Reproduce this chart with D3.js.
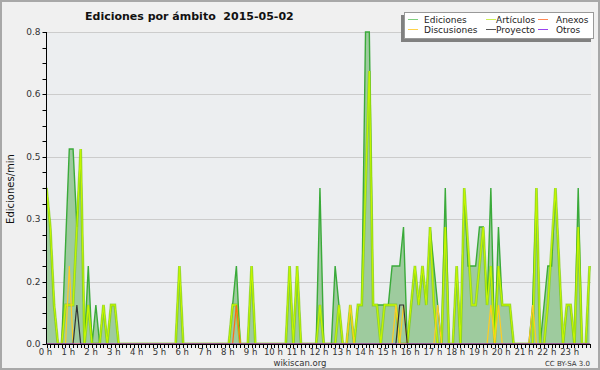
<!DOCTYPE html>
<html lang="es">
  <head>
    <meta charset="UTF-8" />
    <title>Ediciones por ámbito</title>
    <script src="https://d3js.org/d3.v7.min.js"></script>
    <style>
      body { margin: 0; background: #f0f0f0; }
      text { font-family: 'DejaVu Sans', sans-serif; }
    </style>
  </head>
  <body>
    <svg id="chart" width="600" height="370"></svg>
    <script>
      // one value every 10 minutes (144 per day), edits per minute
      const ediciones = [
        0.4, 0.3, 0.1, 0, 0, 0.25, 0.5, 0.5, 0.3, 0.5, 0, 0.2,
        0, 0.1, 0, 0.1, 0, 0.1, 0.1, 0, 0, 0, 0, 0,
        0, 0, 0, 0, 0, 0, 0, 0, 0, 0, 0, 0.2,
        0, 0, 0, 0, 0, 0, 0, 0, 0, 0, 0, 0,
        0, 0.1, 0.2, 0, 0, 0, 0.2, 0, 0, 0, 0, 0,
        0, 0, 0, 0, 0.2, 0, 0.2, 0, 0, 0, 0, 0,
        0.4, 0, 0, 0, 0.2, 0.1, 0, 0, 0.1, 0, 0.1, 0.1,
        0.8, 0.8, 0.1, 0.1, 0.1, 0.1, 0.1, 0.2, 0.2, 0.2, 0.3, 0,
        0.1, 0.2, 0.1, 0.2, 0.1, 0.3, 0.2, 0.1, 0, 0.4, 0, 0,
        0.2, 0, 0.4, 0.2, 0.2, 0.2, 0.3, 0.3, 0.1, 0.4, 0, 0.3,
        0.1, 0.1, 0.1, 0, 0, 0, 0, 0, 0.1, 0.4, 0, 0.1,
        0.2, 0.2, 0.4, 0.2, 0, 0.1, 0.1, 0, 0.4, 0, 0, 0.2
      ]
      const articulos = [
        0.4, 0.3, 0.1, 0, 0, 0.1, 0.1, 0.1, 0.3, 0.5, 0, 0.1,
        0, 0, 0, 0.1, 0, 0.1, 0.1, 0, 0, 0, 0, 0,
        0, 0, 0, 0, 0, 0, 0, 0, 0, 0, 0, 0.2,
        0, 0, 0, 0, 0, 0, 0, 0, 0, 0, 0, 0,
        0, 0.1, 0.1, 0, 0, 0, 0.2, 0, 0, 0, 0, 0,
        0, 0, 0, 0, 0.2, 0, 0.2, 0, 0, 0, 0, 0,
        0.1, 0, 0, 0, 0, 0.1, 0, 0, 0.1, 0, 0.1, 0.1,
        0.4, 0.7, 0.1, 0.1, 0, 0.1, 0.1, 0.1, 0.1, 0, 0, 0,
        0.1, 0.2, 0.1, 0.2, 0.1, 0.3, 0.1, 0, 0, 0.3, 0, 0,
        0.2, 0, 0.4, 0.25, 0.1, 0.1, 0.2, 0.3, 0.1, 0.2, 0, 0.2,
        0.1, 0.1, 0.1, 0, 0, 0, 0, 0, 0, 0.4, 0, 0,
        0.1, 0.25, 0.4, 0.2, 0, 0.1, 0.1, 0, 0.3, 0, 0, 0.2
      ]
      const discusionesAt = { 6: 0.2, 80: 0.1, 92: 0.1, 94: 0.1, 103: 0.1, 117: 0.1, 119: 0.1, 128: 0.1 }
      const anexosAt = { 50: 0.1 }
      const proyectoAt = { 8: 0.1, 93: 0.1, 94: 0.1 }
      const otrosAt = {}

      const slots = d3.range(144)
      const fromSparse = m => slots.map(i => m[i] || 0)
      const discusiones = fromSparse(discusionesAt)
      const anexos = fromSparse(anexosAt)
      const proyecto = fromSparse(proyectoAt)
      const otros = fromSparse(otrosAt)

      const hourLabels = ['0 h', '1 h', '2 h', '3 h', '4 h', '5 h', '6 h', '7 h', '8 h', '9 h', '10 h', '11 h',
        '12 h', '13 h', '14 h', '15 h', '16 h', '17 h', '18 h', '19 h', '20 h', '21 h', '22 h', '23 h']
      const yTicks = [0, 0.16, 0.32, 0.48, 0.64, 0.8]
      const yTickLabels = ['0.0', '0.2', '0.3', '0.5', '0.6', '0.8']

      const legendNames = ['Ediciones', 'Artículos', 'Anexos', 'Discusiones', 'Proyecto', 'Otros']
      const legendColors = ['#7fcf7f', '#ccee55', '#ff8855', '#ffd24a', '#555555', '#9944ee']

      const svg = d3.select('#chart')
      const pLeft = 46.5, pRight = 591, pTop = 32, pBottom = 344

      const x = d3.scaleLinear().domain([0, 1440]).range([pLeft, 593.4])
      const y = d3.scaleLinear().domain([0, 0.8]).range([pBottom, pTop])

      // frame
      svg.append('rect').attr('x', 1).attr('y', 1).attr('width', 598).attr('height', 368)
        .attr('fill', '#f0f0f0').attr('stroke', '#a8a8a8').attr('stroke-width', 2)
      svg.append('rect').attr('x', pLeft).attr('y', pTop).attr('width', pRight - pLeft).attr('height', pBottom - pTop)
        .attr('fill', '#eceef0')

      // grid
      svg.append('g').selectAll('line').data(yTicks.slice(1)).join('line')
        .attr('x1', pLeft).attr('x2', pRight)
        .attr('y1', d => Math.round(y(d)) + 0.5).attr('y2', d => Math.round(y(d)) + 0.5)
        .attr('stroke', '#cccccc')

      svg.append('clipPath').attr('id', 'clip').append('rect')
        .attr('x', pLeft).attr('y', pTop - 2).attr('width', pRight - pLeft).attr('height', pBottom - pTop + 2)
      const plot = svg.append('g').attr('clip-path', 'url(#clip)')

      const t = i => i * 10
      const area = d3.area().x((d, i) => x(t(i))).y0(y(0)).y1(d => y(d))
      const line = d3.line().x((d, i) => x(t(i))).y(d => y(d))

      plot.append('path').datum(ediciones).attr('d', area).attr('fill', '#9ecb9e')
      plot.append('path').datum(ediciones).attr('d', line).attr('fill', 'none')
        .attr('stroke', '#3aaa3a').attr('stroke-width', 1.4)

      plot.append('path').datum(articulos).attr('d', line).attr('fill', 'none')
        .attr('stroke', '#77cc00').attr('stroke-width', 2.8).attr('stroke-opacity', 0.6)
      plot.append('path').datum(articulos).attr('d', line).attr('fill', 'none')
        .attr('stroke', '#c4f500').attr('stroke-width', 1.3)

      const others = [
        [discusiones, '#ffcc22'],
        [anexos, '#ff6a1a'],
        [proyecto, '#333333'],
        [otros, '#9944ee']
      ]
      others.forEach(([vals, c]) => {
        plot.append('path').datum(vals).attr('d', line).attr('fill', 'none')
          .attr('stroke', c).attr('stroke-width', 1.2)
      })

      // axes
      const yAxis = svg.append('g')
      yAxis.append('line').attr('x1', pLeft).attr('x2', pLeft).attr('y1', pTop).attr('y2', pBottom)
        .attr('stroke', '#000')
      yAxis.selectAll('.minor').data(d3.range(0, 21)).join('line')
        .attr('x1', pLeft - 4).attr('x2', pLeft)
        .attr('y1', d => Math.round(y(d * 0.04)) + 0.5).attr('y2', d => Math.round(y(d * 0.04)) + 0.5)
        .attr('stroke', '#000')
      yAxis.selectAll('text').data(yTicks).join('text')
        .attr('x', pLeft - 6).attr('y', d => y(d) + 3)
        .attr('text-anchor', 'end').attr('font-size', 9).attr('fill', '#333')
        .text((d, i) => yTickLabels[i])

      const xAxis = svg.append('g')
      xAxis.append('line').attr('x1', pLeft).attr('x2', pRight).attr('y1', pBottom + 0.5).attr('y2', pBottom + 0.5)
        .attr('stroke', '#000')
      xAxis.selectAll('.tick').data(slots).join('line')
        .attr('x1', i => Math.round(x(t(i))) + 0.5).attr('x2', i => Math.round(x(t(i))) + 0.5)
        .attr('y1', pBottom).attr('y2', pBottom + 4)
        .attr('stroke', '#000')
      xAxis.selectAll('text').data(hourLabels).join('text')
        .attr('x', (d, h) => x(h * 60) - 1).attr('y', pBottom + 10.5)
        .attr('text-anchor', 'middle').attr('font-size', 8.5).attr('fill', '#333')
        .text(d => d)

      // titles
      svg.append('text').attr('x', 85).attr('y', 20).style('white-space', 'pre')
        .attr('font-size', 11).attr('font-weight', 'bold').attr('fill', '#111')
        .text('Ediciones por ámbito  2015-05-02')
      svg.append('text').attr('transform', 'translate(13.5,189) rotate(-90)')
        .attr('text-anchor', 'middle').attr('font-size', 10).attr('fill', '#111')
        .text('Ediciones/min')
      svg.append('text').attr('x', 300).attr('y', 366).attr('text-anchor', 'middle')
        .attr('font-size', 8.5).attr('fill', '#333').text('wikiscan.org')
      svg.append('text').attr('x', 590).attr('y', 366).attr('text-anchor', 'end')
        .attr('font-size', 7).attr('fill', '#333').text('CC BY-SA 3.0')

      // legend
      const lg = svg.append('g')
      lg.append('rect').attr('x', 401).attr('y', 15).attr('width', 190).attr('height', 27).attr('fill', '#808080')
      lg.append('rect').attr('x', 404.5).attr('y', 12.5).attr('width', 189).attr('height', 26)
        .attr('fill', '#fff').attr('stroke', '#999')
      const colX = [408, 486, 538]
      const textX = [424, 496, 556]
      const item = lg.selectAll('.item').data(legendNames).join('g')
        .attr('transform', (d, i) => `translate(0,${i < 3 ? 19 : 29})`)
      item.append('line')
        .attr('x1', (d, i) => colX[i % 3]).attr('x2', (d, i) => colX[i % 3] + 10)
        .attr('y1', 0.5).attr('y2', 0.5)
        .attr('stroke', (d, i) => legendColors[i])
      item.append('text').attr('x', (d, i) => textX[i % 3]).attr('y', 3.5)
        .attr('font-size', 9).attr('fill', '#222').text(d => d)
    </script>
  </body>
</html>
